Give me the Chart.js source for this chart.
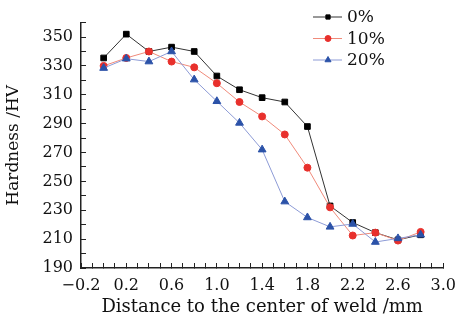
<!DOCTYPE html>
<html>
<head>
<meta charset="utf-8">
<script src="https://cdn.jsdelivr.net/npm/chart.js@4"></script>
<style>
  html, body { margin: 0; padding: 0; background: #fff; }
  #wrap { width: 469px; height: 323px; position: relative; }
</style>
</head>
<body>
<div id="wrap"><canvas id="myChart"></canvas></div>
<script>
const distance = [0, 0.2, 0.4, 0.6, 0.8, 1.0, 1.2, 1.4, 1.6, 1.8, 2.0, 2.2, 2.4, 2.6, 2.8];
const hardness_0 = [335.5, 352, 340, 343, 340, 323, 313.5, 308, 305, 288, 233, 221.5, 214.5, 209.5, 213];
const hardness_10 = [330, 335.5, 340, 333, 329, 318, 305, 295, 282.5, 259.5, 232, 212.5, 214.5, 209, 215];
const hardness_20 = [328.5, 335, 333, 340, 320.5, 305.5, 290.5, 272, 236, 225, 218.5, 220.5, 208, 210.5, 213];
const series_labels = ['0%', '10%', '20%'];
const y_labels = [190, 210, 230, 250, 270, 290, 310, 330, 350];
const x_labels = [-0.2, 0.2, 0.6, 1.0, 1.4, 1.8, 2.2, 2.6, 3.0];

const FONT = "'DejaVu Serif', serif";
const TEXT_COLOR = '#111';

function toPoints(ys) {
    return ys.map((y, i) => ({ x: distance[i], y: y }));
}

// legend drawn by hand: line with marker through it, like the original
const serifLegend = {
    id: 'serifLegend',
    afterDraw(chart) {
        let ctx = chart.ctx;
        [0, 1, 2].forEach((i, k) => {
            let ds = chart.data.datasets[i];
            let y = 17 + k * 21.5;
            ctx.save();
            ctx.strokeStyle = ds.borderColor;
            ctx.lineWidth = 1;
            ctx.beginPath();
            ctx.moveTo(313, y);
            ctx.lineTo(342, y);
            ctx.stroke();
            ctx.fillStyle = ds.pointBackgroundColor;
            ctx.strokeStyle = ds.pointBorderColor;
            Chart.helpers.drawPoint(ctx, {
                pointStyle: ds.pointStyle,
                radius: ds.legendRadius,
                borderWidth: 1,
                rotation: 0
            }, 328, y);
            ctx.fillStyle = TEXT_COLOR;
            ctx.font = "17px " + FONT;
            ctx.textBaseline = 'middle';
            ctx.textAlign = 'left';
            ctx.fillText(series_labels[i], 347, y + 1);
            ctx.restore();
        });
    }
};

let ctx = document.getElementById('myChart').getContext('2d');
let my_chart = new Chart(ctx, {
    type: 'line',
    data: {
        datasets: [{
            label: series_labels[0],
            data: toPoints(hardness_0),
            borderColor: '#333333',
            borderWidth: 1,
            pointStyle: 'rect',
            pointRadius: 4,
            legendRadius: 3,
            pointBackgroundColor: '#000000',
            pointBorderColor: '#000000',
            pointBorderWidth: 1,
            order: 2
        },
        {
            label: series_labels[1],
            data: toPoints(hardness_10),
            borderColor: '#f08a7a',
            borderWidth: 1,
            pointStyle: 'circle',
            pointRadius: 3.5,
            legendRadius: 3,
            pointBackgroundColor: '#e8302c',
            pointBorderColor: '#e8302c',
            pointBorderWidth: 1,
            order: 1
        },
        {
            label: series_labels[2],
            data: toPoints(hardness_20),
            borderColor: '#8d9bd6',
            borderWidth: 1,
            pointStyle: 'triangle',
            pointRadius: 4.5,
            legendRadius: 3.5,
            pointBackgroundColor: '#2b52a8',
            pointBorderColor: '#2b52a8',
            pointBorderWidth: 1,
            order: 0
        }]
    },
    options: {
        responsive: true,
        maintainAspectRatio: false,
        animation: false,
        layout: { padding: { top: 5, right: 17, left: 0, bottom: 0 } },
        plugins: {
            legend: { display: false },
            tooltip: { enabled: false }
        },
        scales: {
            x: {
                type: 'linear',
                min: -0.2,
                max: 3.0,
                afterFit: s => { s.height = 55; },
                border: { display: true, color: '#222', width: 1.5 },
                grid: {
                    drawOnChartArea: false,
                    tickLength: -5,
                    tickColor: '#222',
                    tickWidth: 1
                },
                ticks: {
                    stepSize: 0.1,
                    autoSkip: false,
                    maxRotation: 0,
                    padding: 13,
                    color: TEXT_COLOR,
                    font: { family: FONT, size: 16 },
                    callback: function (v) {
                        let hit = x_labels.find(l => Math.abs(l - v) < 1e-6);
                        if (hit === undefined) return '';
                        return hit < 0 ? '\u2212' + Math.abs(hit).toFixed(1) : hit.toFixed(1);
                    }
                },
                title: {
                    display: true,
                    text: 'Distance to the center of weld /mm',
                    color: TEXT_COLOR,
                    font: { family: FONT, size: 18 },
                    padding: { top: 0, bottom: 5 }
                }
            },
            y: {
                min: 190,
                max: 360,
                afterFit: s => { s.width = 81; },
                border: { display: true, color: '#222', width: 1.5 },
                grid: {
                    drawOnChartArea: false,
                    tickLength: -5,
                    tickColor: '#222',
                    tickWidth: 1
                },
                ticks: {
                    stepSize: 10,
                    autoSkip: false,
                    padding: 13,
                    color: TEXT_COLOR,
                    font: { family: FONT, size: 16 },
                    callback: function (v) {
                        return y_labels.includes(v) ? String(v) : '';
                    }
                },
                title: {
                    display: true,
                    text: 'Hardness /HV',
                    color: TEXT_COLOR,
                    font: { family: FONT, size: 17 },
                    padding: { top: 3, bottom: 0 }
                }
            }
        }
    },
    plugins: [serifLegend]
});
</script>
</body>
</html>
